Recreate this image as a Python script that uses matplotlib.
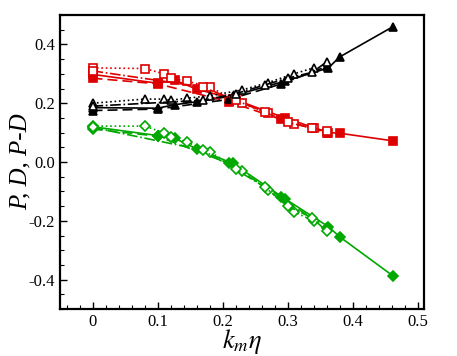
import numpy as np
import matplotlib.pyplot as plt
from matplotlib.ticker import MultipleLocator, FuncFormatter

plt.rcParams['font.family'] = 'Liberation Serif'
plt.rcParams['mathtext.fontset'] = 'stix'
plt.rcParams['axes.unicode_minus'] = False

# series 1: solid, filled markers
x1 = [0, 0.10, 0.127, 0.16, 0.216, 0.296, 0.363, 0.38, 0.462]
p1 = [0.298, 0.268, 0.278, 0.248, 0.215, 0.15, 0.10, 0.098, 0.072]
d1 = [0.185, 0.183, 0.195, 0.205, 0.225, 0.275, 0.32, 0.357, 0.46]
g1 = [0.12, 0.09, 0.08, 0.045, -0.005, -0.125, -0.22, -0.254, -0.387]

# series 2: dashed, filled markers
x2 = [0, 0.10, 0.21, 0.29, 0.36]
p2 = [0.285, 0.266, 0.205, 0.145, 0.10]
d2 = [0.175, 0.18, 0.213, 0.265, 0.325]
g2 = [0.112, 0.088, -0.005, -0.12, -0.225]

# series 3: dotted, open markers
x3 = [0, 0.08, 0.11, 0.12, 0.145, 0.18, 0.23, 0.27, 0.31, 0.34]
p3 = [0.32, 0.318, 0.30, 0.285, 0.275, 0.255, 0.20, 0.165, 0.13, 0.115]
d3 = [0.20, 0.214, 0.214, 0.21, 0.217, 0.225, 0.245, 0.27, 0.30, 0.32]
g3 = [0.122, 0.122, 0.10, 0.085, 0.068, 0.035, -0.03, -0.095, -0.17, -0.2]

# series 4: dash-dot, open markers
x4 = [0, 0.17, 0.22, 0.265, 0.30, 0.338, 0.36]
p4 = [0.31, 0.255, 0.21, 0.17, 0.135, 0.115, 0.105]
d4 = [0.19, 0.21, 0.232, 0.262, 0.285, 0.305, 0.34]
g4 = [0.118, 0.04, -0.025, -0.085, -0.15, -0.19, -0.235]

red = '#dd0000'
green = '#00a800'

fig = plt.figure(figsize=(4.57, 3.56), dpi=100)
ax = fig.add_axes([60 / 457, 1 - 309 / 356, 364 / 457, 294 / 356])

styles = [(x1, p1, d1, g1, '-', True),
          (x2, p2, d2, g2, (0, (6, 3)), True),
          (x3, p3, d3, g3, ':', False),
          (x4, p4, d4, g4, '-.', False)]

for x, p, d, g, ls, filled in styles:
    for y, c, m, ms in [(p, red, 's', 5.5), (d, 'k', '^', 6), (g, green, 'D', 5)]:
        ax.plot(x, y, linestyle=ls, color=c, lw=1.2, marker=m, ms=ms,
                mfc=c if filled else 'white', mec=c, mew=1.2)

ax.set_xlim(-0.05, 0.51)
ax.set_ylim(-0.5, 0.5)
ax.xaxis.set_major_locator(MultipleLocator(0.1))
ax.xaxis.set_minor_locator(MultipleLocator(0.02))
ax.yaxis.set_major_locator(MultipleLocator(0.2))
ax.yaxis.set_minor_locator(MultipleLocator(0.05))
ax.xaxis.set_major_formatter(FuncFormatter(lambda v, _: '0' if abs(v) < 1e-9 else f'{v:.1f}'))
ax.yaxis.set_major_formatter(FuncFormatter(lambda v, _: f'{v:.1f}'))
ax.tick_params(which='both', direction='in', top=False, right=False, labelsize=12)
ax.tick_params(which='major', length=5, width=1)
ax.tick_params(which='minor', length=3, width=0.8)
for spine in ax.spines.values():
    spine.set_linewidth(1.6)

ax.set_xlabel(r'$k_m\eta$', fontsize=19, labelpad=-2)
ax.set_ylabel('P, D, P-D', fontsize=18, style='italic', labelpad=-2)

fig.savefig('out.png', dpi=100)
